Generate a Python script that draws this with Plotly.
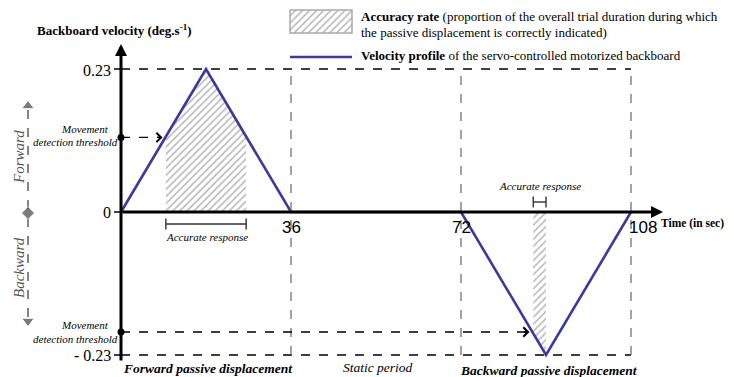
import numpy as np
import plotly.graph_objects as go

# velocity profile of the motorized backboard
time_s = [0, 18, 36, 72, 90, 108]
velocity = [0, 0.23, 0, 0, -0.23, 0]
phase_ends = [36, 72, 108]
phase_labels = ["36", "72", "108"]
peak = 0.23
threshold_fwd = 0.12
threshold_bwd = -0.193
accurate_fwd = [9.5, 26.5]
accurate_bwd = [87.3, 90.0]

SERIF = "Liberation Serif, Times New Roman, serif"
SANS = "Liberation Sans, Arial, sans-serif"
BLUE = "#3a3a9c"
W, H = 734, 377
OFF = 8  # page body margin

# pixel <-> data mapping used to pick axis ranges
X0, PX_PER_S = 121, 170 / 36
Y0, PX_PER_V = 212, 143 / 0.23
xr = [(OFF - X0) / PX_PER_S, (W - X0) / PX_PER_S]
yr = [-(H - Y0) / PX_PER_V, (Y0 - OFF) / PX_PER_V]


def tx(px):
    return (px - X0) / PX_PER_S


def vy(py):
    return (Y0 - py) / PX_PER_V


fig = go.Figure()

hatch = dict(shape="/", fgcolor="#6f6f6f", bgcolor="white", size=5, solidity=0.3)

# accurate-response hatched areas under the profile
for a, b in (accurate_fwd, accurate_bwd):
    inner = [t for t in time_s if a < t < b]
    xs = [a] + [a] + inner + [b] + [b]
    ys = [0] + list(np.interp([a] + inner + [b], time_s, velocity)) + [0]
    fig.add_trace(go.Scatter(x=xs, y=ys, fill="toself", fillcolor="white",
                             fillpattern=hatch, mode="lines", line=dict(width=0),
                             hoverinfo="skip", showlegend=False))

shapes = []
# dashed guides
for v in (peak, -peak):
    shapes.append(dict(type="line", x0=0, x1=phase_ends[-1], y0=v, y1=v,
                       line=dict(color="black", width=1.4, dash="dash")))
for t in phase_ends:
    shapes.append(dict(type="line", x0=t, x1=t, y0=-peak, y1=peak,
                       line=dict(color="#666", width=1.2, dash="dash")))
# y ticks
for v in (peak, 0, -peak):
    shapes.append(dict(type="line", x0=tx(114), x1=0, y0=v, y1=v,
                       line=dict(color="black", width=1.5)))
# threshold dashed arrows
fwd_end = np.interp(threshold_fwd, velocity[:2], time_s[:2]) - 0.6
bwd_end = np.interp(threshold_bwd, velocity[3:5][::-1], time_s[3:5][::-1]) - 0.6
for end, thr in ((fwd_end, threshold_fwd), (bwd_end, threshold_bwd)):
    shapes.append(dict(type="line", x0=0, x1=end - 0.4, y0=thr, y1=thr,
                       line=dict(color="black", width=1.4, dash="dash")))

annotations = []
# axes with arrowheads
annotations.append(dict(x=0, y=vy(44), ax=0, ay=vy(362), xref="x", yref="y",
                        axref="x", ayref="y", showarrow=True, arrowhead=2,
                        arrowsize=0.8, arrowwidth=3, arrowcolor="black", text=""))
annotations.append(dict(x=tx(663), y=0, ax=0, ay=0, xref="x", yref="y",
                        axref="x", ayref="y", showarrow=True, arrowhead=2,
                        arrowsize=0.8, arrowwidth=3, arrowcolor="black", text=""))
for end, thr in ((fwd_end, threshold_fwd), (bwd_end, threshold_bwd)):
    annotations.append(dict(x=end, y=thr, ax=end - 1.5, ay=thr, xref="x", yref="y",
                            axref="x", ayref="y", showarrow=True, arrowhead=4,
                            arrowsize=1.4, arrowwidth=1.3, arrowcolor="black", text=""))

fig.add_trace(go.Scatter(x=time_s, y=velocity, mode="lines",
                         line=dict(color=BLUE, width=2.6), showlegend=False,
                         hoverinfo="skip"))
fig.add_trace(go.Scatter(x=[0, 0], y=[threshold_fwd, threshold_bwd], mode="markers",
                         marker=dict(color="black", size=7), showlegend=False,
                         hoverinfo="skip"))

# accurate-response brackets
for (a, b), yb in ((accurate_fwd, vy(224)), (accurate_bwd, vy(202))):
    fig.add_trace(go.Scatter(x=[a, b], y=[yb, yb], mode="lines+markers",
                             line=dict(color="#333", width=1.4),
                             marker=dict(symbol="line-ns", size=8,
                                         line=dict(color="#333", width=1.4)),
                             showlegend=False, hoverinfo="skip"))

# ----- decorations in pixel space (overlay axes) -----
fig.add_trace(go.Scatter(x=[290, 352, 352, 290, 290], y=[10, 10, 33, 33, 10],
                         xaxis="x2", yaxis="y2", fill="toself", fillcolor="white",
                         fillpattern=hatch, mode="lines",
                         line=dict(color="#aaa", width=1.5), showlegend=False,
                         hoverinfo="skip"))
fig.add_trace(go.Scatter(x=[290, 352], y=[57, 57], xaxis="x2", yaxis="y2",
                         mode="lines", line=dict(color=BLUE, width=2.6),
                         showlegend=False, hoverinfo="skip"))
# forward/backward direction indicator
fig.add_trace(go.Scatter(x=[28, 28], y=[110, 318], xaxis="x2", yaxis="y2",
                         mode="lines", line=dict(color="#444", width=1.3, dash="dash"),
                         showlegend=False, hoverinfo="skip"))
fig.add_trace(go.Scatter(x=[28, 28, 28], y=[106, 213, 321], xaxis="x2", yaxis="y2",
                         mode="markers",
                         marker=dict(symbol=["triangle-up", "diamond", "triangle-down"],
                                     size=[11, 10, 11], color="#444"),
                         showlegend=False, hoverinfo="skip"))


def label(x, y, text, size=13, family=SERIF, xanchor="center", color="black", **kw):
    annotations.append(dict(x=x, y=y, xref="x2", yref="y2", text=text, showarrow=False,
                            xanchor=xanchor, yanchor="middle",
                            font=dict(family=family, size=size, color=color), **kw))


label(114, 30, "<b>Backboard velocity (deg.s<sup>-1</sup>)</b>", size=13)
label(359, 16, "<b>Accuracy rate</b> (proportion of the overall trial duration during which",
      xanchor="left")
label(359, 32, "the passive displacement is correctly indicated)", xanchor="left")
label(359, 55, "<b>Velocity profile</b> of the servo-controlled motorized backboard",
      xanchor="left")

label(113, 70, "0.23", size=16, xanchor="right")
label(113, 212, "0", size=16, xanchor="right")
label(113, 355, "- 0.23", size=16, xanchor="right")
for t, txt in zip(phase_ends, phase_labels):
    px = X0 + t * PX_PER_S
    label(px + (12 if txt == "108" else 0), 227, txt, size=17, family=SANS)
label(659, 223, "<b>Time (in sec)</b>", size=11.5, xanchor="left")

label(85, 129, "<i>Movement</i>", size=11)
label(75, 142, "<i>detection threshold</i>", size=11)
label(85, 325, "<i>Movement</i>", size=11)
label(75, 339, "<i>detection threshold</i>", size=11)

label(207, 237, "<i>Accurate response</i>", size=11)
label(540, 186, "<i>Accurate response</i>", size=11)

label(19, 157, "<i>Forward</i>", size=15, color="#555", textangle=-90)
label(19, 268, "<i>Backward</i>", size=15, color="#555", textangle=-90)

label(208, 368, "<b><i>Forward passive displacement</i></b>", size=13.5)
label(378, 367, "<i>Static period</i>", size=13.5)
label(549, 370, "<b><i>Backward passive displacement</i></b>", size=13.5)

fig.update_layout(
    width=W - OFF, height=H - OFF, margin=dict(l=0, r=0, t=0, b=0),
    paper_bgcolor="white", plot_bgcolor="white",
    xaxis=dict(range=xr, visible=False, fixedrange=True),
    yaxis=dict(range=yr, visible=False, fixedrange=True),
    xaxis2=dict(range=[OFF, W], visible=False, overlaying="x"),
    yaxis2=dict(range=[H, OFF], visible=False, overlaying="y"),
    shapes=shapes, annotations=annotations, showlegend=False,
)

fig.write_html("out.html")
